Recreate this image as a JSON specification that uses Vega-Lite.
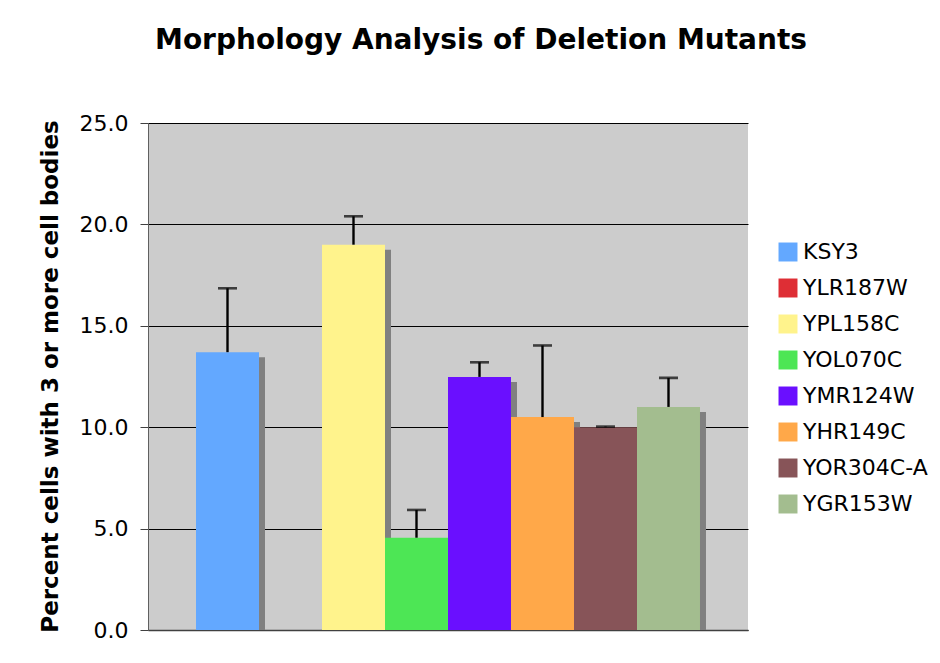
{
  "$schema": "https://vega.github.io/schema/vega-lite/v6.json",
  "autosize": "none",
  "width": 600,
  "height": 507,
  "padding": {"left": 148, "top": 123, "right": 192, "bottom": 33},
  "background": "white",
  "title": {
    "text": "Morphology Analysis of Deletion Mutants",
    "font": "DejaVu Sans",
    "fontWeight": "bold",
    "fontSize": 28,
    "color": "black",
    "anchor": "middle",
    "baseline": "alphabetic",
    "offset": 35,
    "dx": 33
  },
  "config": {
    "view": {"stroke": null, "fill": "#CCCCCC"},
    "font": "DejaVu Sans"
  },
  "data": {
    "values": [
      {"strain": "KSY3", "value": 13.7, "upper": 16.85},
      {"strain": "YLR187W", "value": null, "upper": null},
      {"strain": "YPL158C", "value": 19.0, "upper": 20.4},
      {"strain": "YOL070C", "value": 4.55, "upper": 5.92},
      {"strain": "YMR124W", "value": 12.48, "upper": 13.2},
      {"strain": "YHR149C", "value": 10.5, "upper": 14.03},
      {"strain": "YOR304C-A", "value": 10.0, "upper": 10.03},
      {"strain": "YGR153W", "value": 11.0, "upper": 12.43}
    ]
  },
  "encoding": {
    "x": {
      "field": "strain",
      "type": "nominal",
      "sort": null,
      "scale": {
        "domain": ["KSY3", "YLR187W", "YPL158C", "YOL070C", "YMR124W", "YHR149C", "YOR304C-A", "YGR153W"],
        "paddingInner": 0,
        "paddingOuter": 0.762
      },
      "axis": {
        "title": null,
        "labels": false,
        "ticks": false,
        "domainColor": "#404040",
        "domainWidth": 1.5
      }
    }
  },
  "layer": [
    {
      "mark": {"type": "bar", "color": "#808080", "xOffset": 6, "yOffset": 5, "y2Offset": 0},
      "encoding": {
        "y": {
          "field": "value",
          "type": "quantitative",
          "scale": {"domain": [0, 25], "nice": false},
          "axis": {
            "title": "Percent cells with 3 or more cell bodies",
            "titleFont": "DejaVu Sans",
            "titleFontWeight": "bold",
            "titleFontSize": 23,
            "titleColor": "black",
            "titleX": -91,
            "titleY": 253,
            "titleAngle": -90,
            "titleBaseline": "alphabetic",
            "titleAlign": "center",
            "values": [0, 5, 10, 15, 20, 25],
            "format": ".1f",
            "labelFontSize": 22,
            "labelColor": "black",
            "labelPadding": 12,
            "tickSize": 8,
            "tickColor": "#404040",
            "domainColor": "#606060",
            "grid": true,
            "gridColor": "black",
            "gridWidth": 1.2
          }
        },
        "y2": {"datum": 0}
      }
    },
    {
      "mark": {"type": "bar"},
      "encoding": {
        "y": {"field": "value", "type": "quantitative"},
        "color": {
          "field": "strain",
          "type": "nominal",
          "scale": {
            "domain": ["KSY3", "YLR187W", "YPL158C", "YOL070C", "YMR124W", "YHR149C", "YOR304C-A", "YGR153W"],
            "range": ["#63A8FF", "#DE2E35", "#FFF38C", "#4DE655", "#6A0FFF", "#FFA849", "#875458", "#A3BD8F"]
          },
          "legend": {
            "title": null,
            "orient": "none",
            "legendX": 629,
            "legendY": 118,
            "symbolType": "square",
            "symbolSize": 360,
            "symbolStrokeWidth": 0,
            "labelFontSize": 22,
            "labelColor": "black",
            "labelOffset": 4,
            "rowPadding": 14
          }
        }
      }
    },
    {
      "mark": {"type": "rule", "color": "black", "strokeWidth": 2.4},
      "encoding": {
        "y": {"field": "value", "type": "quantitative"},
        "y2": {"field": "upper"}
      }
    },
    {
      "mark": {"type": "tick", "color": "black", "thickness": 2.6, "size": 19},
      "encoding": {
        "y": {"field": "upper", "type": "quantitative"}
      }
    }
  ]
}
